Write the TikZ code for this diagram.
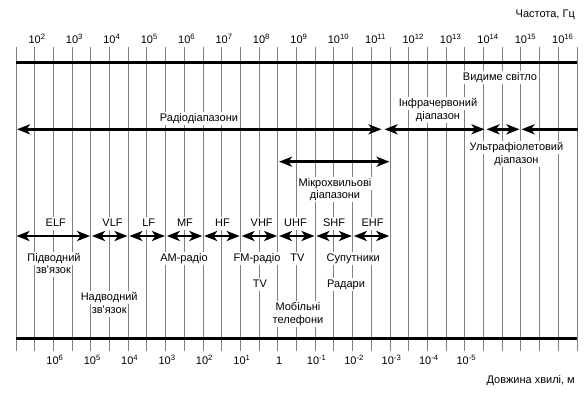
\documentclass[tikz,border=0pt]{standalone}
\usepackage{fontspec}
\setmainfont{Liberation Sans}
\usetikzlibrary{arrows.meta}
\begin{document}
\begin{tikzpicture}[x=1pt,y=-1pt,
  >={Stealth[length=13pt 0 0,width=10pt 0 0,inset=3.5pt 0 0]},
  gridline/.style={draw=black!50,line width=0.9pt},
  axisline/.style={line width=2.5pt},
  band/.style={line width=2.8pt},
  lbl/.style={fill=white,inner sep=1pt,text height=8.5pt,text depth=2.5pt,anchor=base,font=\fontsize{11}{13}\selectfont},
  num/.style={inner sep=0pt,anchor=base,font=\fontsize{11}{13}\selectfont}]
\useasboundingbox (0,0) rectangle (588,392);
% grid lines
\foreach \i in {0,...,30} \draw[gridline] ({16+18.7*\i},47) -- ({16+18.7*\i},350.5);
% axes
\coordinate (tl) at (16,62.7);
\coordinate (tr) at (577,62.7);
\coordinate (bl) at (16,338.3);
\coordinate (br) at (577,338.3);
\draw[axisline] (tl) -- (tr);
\draw[axisline] (bl) -- (br);
% axis titles
\node[num,anchor=base east] (fq) at (575,17) {Частота, Гц};
\node[num,anchor=base east] (wl) at (575,383) {Довжина хвилі, м};
% frequency labels
\foreach \k in {2,...,16} \node[num] (f\k) at ({16+18.7*(2*\k-3)},43) {10\rlap{\textsuperscript{\k}}};
% wavelength labels
\foreach \e/\j in {6/2,5/4,4/6,3/8,2/10,1/12,-1/16,-2/18,-3/20,-4/22,-5/24}
  \node[num] (w\j) at ({16+18.7*\j+1.5},364) {10\textsuperscript{\e}};
\node[num] (w14) at ({16+18.7*14+1.5},364) {1};
% labels
\node[lbl] (radio) at (199,121.5) {Радіодіапазони};
\node[lbl] (vis) at (500,80) {Видиме світло};
\node[lbl] (ir1) at (438,106.5) {Інфрачервоний};
\node[lbl] (ir2) at (438,119.5) {діапазон};
\node[lbl] (uv1) at (516.5,150) {Ультрафіолетовий};
\node[lbl] (uv2) at (516.5,163) {діапазон};
\node[lbl] (mw1) at (335,186.5) {Мікрохвильові};
\node[lbl] (mw2) at (335,198.5) {діапазони};
\foreach \t/\x in {ELF/55.8,VLF/112.5,LF/148.8,MF/185,HF/222.5,VHF/261.7,UHF/295.5,SHF/334,EHF/372.5}
  \node[lbl] (b\t) at (\x,226.5) {\t};
\node[lbl] (sub1) at (54,261.5) {Підводний};
\node[lbl] (sub2) at (53.5,273.5) {зв\textquotesingle язок};
\node[lbl] (am) at (184,261.5) {АМ-радіо};
\node[lbl] (fm) at (257,261.5) {FM-радіо};
\node[lbl] (tv1) at (260,287) {TV};
\node[lbl] (tv2) at (297.5,261.5) {TV};
\node[lbl] (sat) at (353.3,261.5) {Супутники};
\node[lbl] (rad) at (346,287) {Радари};
\node[lbl] (sur1) at (109.2,300) {Надводний};
\node[lbl] (sur2) at (109.2,313) {зв\textquotesingle язок};
\node[lbl] (mob1) at (298,310) {Мобільні};
\node[lbl] (mob2) at (298,323) {телефони};
% spectrum arrows
\coordinate (r1) at (17,129.3);
\coordinate (r2) at (381.5,129.3);
\coordinate (i1) at (384.5,129.3);
\coordinate (i2) at (484.5,129.3);
\coordinate (v1) at (486.5,129.3);
\coordinate (v2) at (519.5,129.3);
\coordinate (u1) at (521.5,129.3);
\coordinate (u2) at (578,129.3);
\draw[band,<->] (r1) -- (r2);
\draw[band,<->] (i1) -- (i2);
\draw[band,<->] (v1) -- (v2);
\draw[band,<-] (u1) -- (u2);
\coordinate (m1) at (279,161.7);
\coordinate (m2) at (389.5,161.7);
\draw[band,<->] (m1) -- (m2);
% band arrows
\coordinate (e0) at (16.5,236);
\coordinate (e1) at ({16+18.7*4-0.7},236);
\draw[band,<->] (e0) -- (e1);
\foreach \a/\b in {4/6,6/8,8/10,10/12,12/14,14/16,16/18,18/20} {
  \coordinate (s\a) at ({16+18.7*\a+1.2},236);
  \coordinate (t\a) at ({16+18.7*\b-0.7},236);
  \draw[band,<->] (s\a) -- (t\a);
}
\end{tikzpicture}
\end{document}
